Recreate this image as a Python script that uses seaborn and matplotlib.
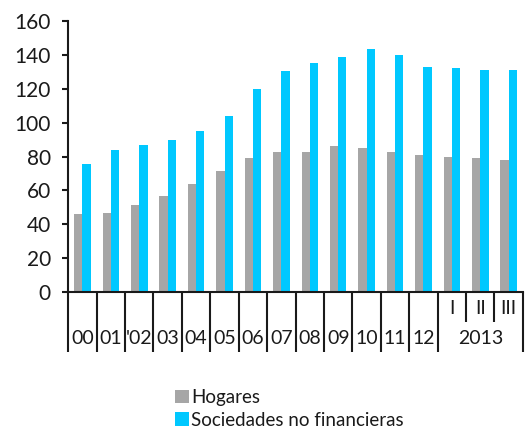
import numpy as np
import pandas as pd
import seaborn as sns
import matplotlib.pyplot as plt
from matplotlib import transforms

# ---- data ----
periods = ['00', '01', '02', '03', '04', '05', '06', '07', '08', '09', '10', '11', '12',
           '2013-I', '2013-II', '2013-III']
year_labels = ['00', '01', "'02", '03', '04', '05', '06', '07', '08', '09', '10', '11', '12']
quarter_labels = ['I', 'II', 'III']
year_2013 = '2013'
hogares = [46, 47, 51.5, 57, 64, 71.5, 79, 83, 83, 86, 85, 83, 81, 80, 79, 78]
sociedades = [75.5, 84, 87, 89.5, 95, 104, 120, 130.5, 135, 139, 143.5, 140, 133, 132, 131, 131]
series_names = ['Hogares', 'Sociedades no financieras']
y_ticks = [0, 20, 40, 60, 80, 100, 120, 140, 160]

GRAY = '#A6A6A6'
BLUE = '#00C8FF'
INK = '#1a1a1a'

sns.set_style('ticks')
plt.rcParams['font.family'] = ['Lato', 'DejaVu Sans']

df = pd.DataFrame({
    'periodo': periods * 2,
    'serie': [series_names[0]] * len(periods) + [series_names[1]] * len(periods),
    'valor': hogares + sociedades,
})

fig = plt.figure(figsize=(5.25, 4.29), dpi=100)
ax = fig.add_axes([0.130, 0.319, 0.866, 0.632])

sns.barplot(data=df, x='periodo', y='valor', hue='serie', hue_order=series_names,
            palette=[GRAY, BLUE], width=0.58, linewidth=0, saturation=1, ax=ax)

handles, labels = ax.get_legend_handles_labels()
if ax.get_legend() is not None:
    ax.get_legend().remove()

ax.set_xlim(-0.5, len(periods) - 0.5)
ax.set_ylim(0, 160)
ax.set_yticks(y_ticks)
ax.set_yticklabels([str(v) for v in y_ticks], fontsize=15, color=INK)
ax.set_xlabel('')
ax.set_ylabel('')

for s in ['top', 'right']:
    ax.spines[s].set_visible(False)
for s in ['left', 'bottom']:
    ax.spines[s].set_linewidth(1.5)
    ax.spines[s].set_color(INK)

n = len(periods)
major = [b - 0.5 for b in range(0, n + 1) if b not in (14, 15)]
minor = [13.5, 14.5]
ax.set_xticks(major)
ax.set_xticklabels([''] * len(major))
ax.set_xticks(minor, minor=True)
ax.tick_params(axis='x', which='major', length=43, width=1.5, color=INK, direction='out')
ax.tick_params(axis='x', which='minor', length=21.5, width=1.5, color=INK, direction='out')
ax.tick_params(axis='y', length=4.5, width=1.5, color=INK, pad=8, direction='out')

trans = transforms.blended_transform_factory(ax.transData, ax.transAxes)
for i, lab in enumerate(year_labels):
    ax.text(i, -0.170, lab, ha='center', va='center', fontsize=14, color=INK,
            transform=trans, clip_on=False)
for j, lab in enumerate(quarter_labels):
    ax.text(13 + j, -0.059, lab, ha='center', va='center', fontsize=14, color=INK,
            transform=trans, clip_on=False)
ax.text(14, -0.170, year_2013, ha='center', va='center', fontsize=14, color=INK,
        transform=trans, clip_on=False)

fig.legend(handles, labels, loc='upper left', bbox_to_anchor=(0.333, 0.093),
           frameon=False, fontsize=13.5, handlelength=0.75, handleheight=0.75,
           handletextpad=0.1, labelspacing=0.3, borderpad=0, borderaxespad=0,
           labelcolor=INK)

fig.savefig('out.png', dpi=100)
